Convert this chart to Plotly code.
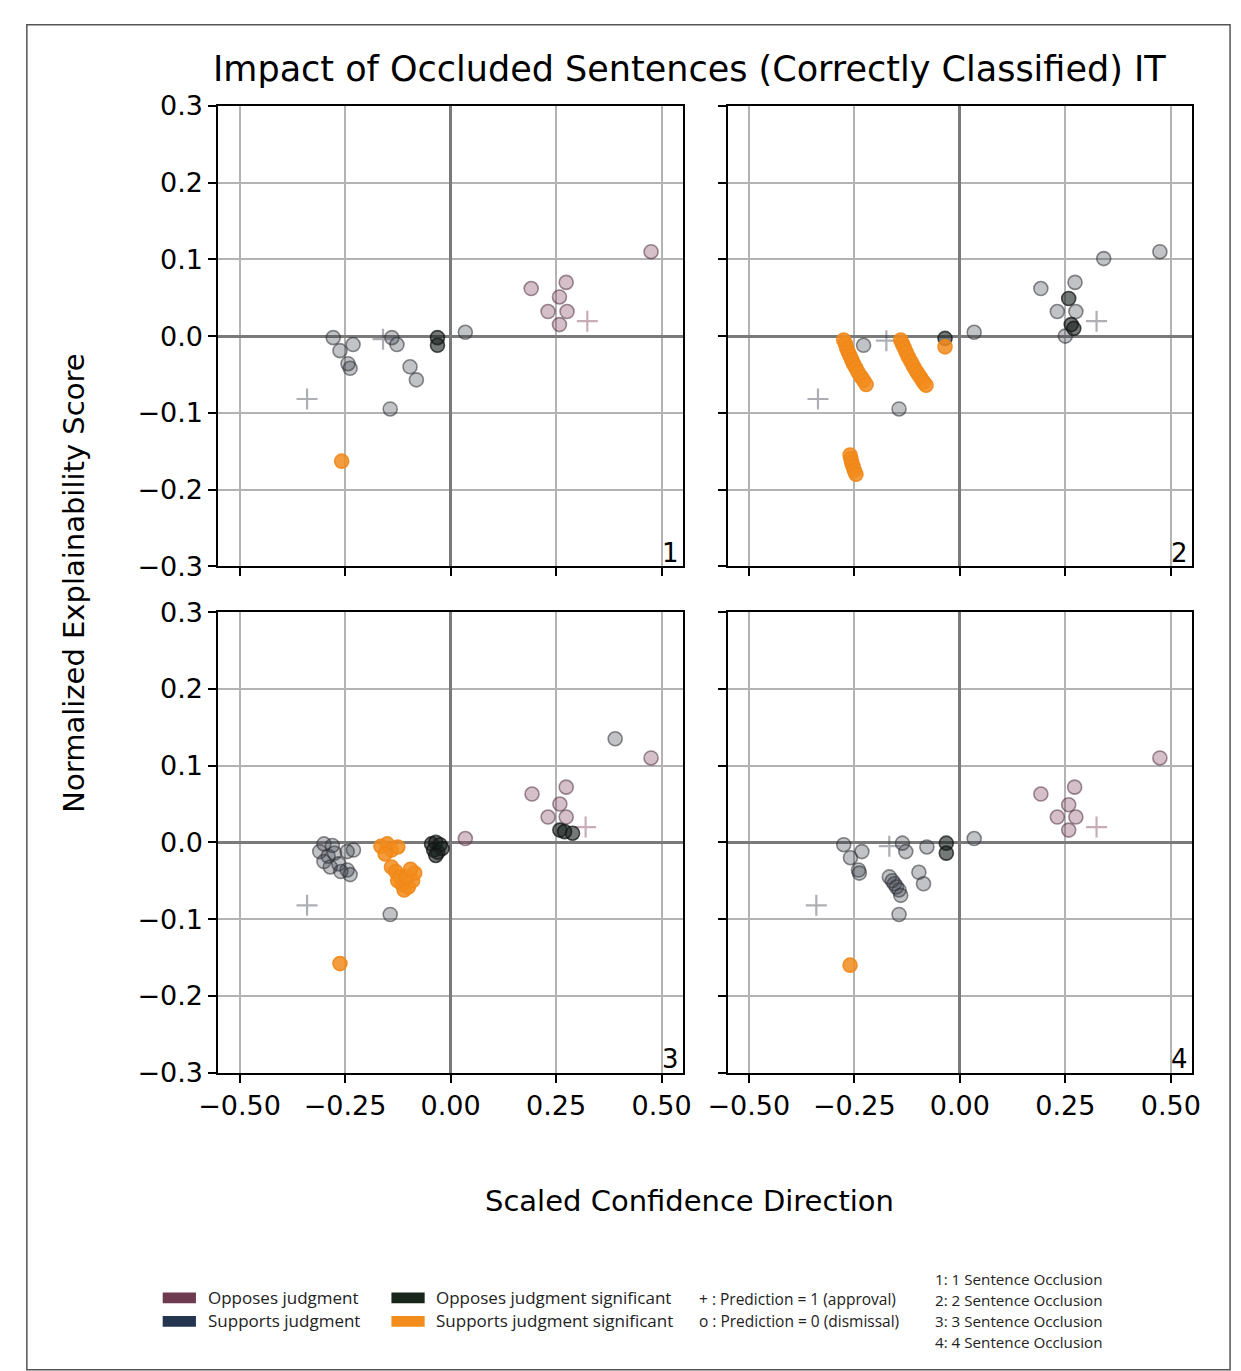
import plotly.graph_objects as go

W, H = 1241, 1371

# ---------------- data ----------------
# categories: O = opposes judgment, S = supports judgment,
#             OS = opposes judgment significant, SS = supports judgment significant
# symbols: "o" = prediction 0, "+" = prediction 1

p1_x = [0.475, 0.274, 0.191, 0.258, 0.231, 0.276, 0.258, 0.324,
        0.035, -0.139, -0.127, -0.278, -0.231, -0.262, -0.243, -0.238, -0.096, -0.081, -0.143,
        -0.340, -0.160,
        -0.031, -0.031,
        -0.258]
p1_y = [0.110, 0.070, 0.062, 0.051, 0.032, 0.032, 0.015, 0.0195,
        0.005, -0.002, -0.011, -0.002, -0.011, -0.019, -0.036, -0.042, -0.040, -0.057, -0.095,
        -0.082, -0.004,
        -0.002, -0.012,
        -0.163]
p1_cat = ["O"] * 8 + ["S"] * 11 + ["S"] * 2 + ["OS"] * 2 + ["SS"]
p1_sym = ["o"] * 7 + ["+"] + ["o"] * 11 + ["+"] * 2 + ["o"] * 3

p2_x = [0.474, 0.341, 0.273, 0.192, 0.231, 0.275, 0.250, 0.034,
        0.258, 0.264, 0.270,
        0.324, -0.336,
        -0.228, -0.144, -0.174,
        -0.035,
        -0.035,
        -0.275, -0.271, -0.268, -0.264, -0.260, -0.256, -0.252, -0.247, -0.241, -0.234, -0.228, -0.222,
        -0.140, -0.136, -0.132, -0.127, -0.122, -0.116, -0.110, -0.104, -0.098, -0.092, -0.086, -0.080,
        -0.260, -0.258, -0.256, -0.253, -0.250, -0.246]
p2_y = [0.110, 0.101, 0.070, 0.062, 0.032, 0.032, 0.000, 0.005,
        0.049, 0.015, 0.010,
        0.0195, -0.082,
        -0.012, -0.095, -0.006,
        -0.003,
        -0.014,
        -0.005, -0.010, -0.016, -0.021, -0.026, -0.031, -0.036, -0.041, -0.047, -0.053, -0.058, -0.063,
        -0.005, -0.010, -0.015, -0.021, -0.027, -0.033, -0.039, -0.045, -0.050, -0.055, -0.060, -0.064,
        -0.155, -0.160, -0.165, -0.170, -0.175, -0.180]
p2_cat = (["S"] * 8 + ["OS"] * 3 + ["S"] * 2 + ["S"] * 3 + ["OS"] + ["SS"]
          + ["SS"] * 12 + ["SS"] * 12 + ["SS"] * 6)
p2_sym = (["o"] * 8 + ["o"] * 3 + ["+"] * 2 + ["o", "o", "+"] + ["o"] + ["o"]
          + ["o"] * 30)

p3_x = [0.390,
        0.475, 0.274, 0.193, 0.259, 0.231, 0.274, 0.035,
        0.259, 0.289, 0.270,
        0.320, -0.340,
        -0.045, -0.035, -0.025, -0.040, -0.030, -0.020, -0.035,
        -0.165, -0.150, -0.140, -0.125, -0.155,
        -0.140, -0.130, -0.120, -0.115, -0.110, -0.100, -0.090, -0.085, -0.125, -0.105, -0.095,
        -0.300, -0.280, -0.310, -0.290, -0.275, -0.300, -0.285, -0.265, -0.245, -0.230, -0.245, -0.238, -0.260,
        -0.143,
        -0.262]
p3_y = [0.135,
        0.110, 0.072, 0.063, 0.050, 0.033, 0.033, 0.005,
        0.016, 0.012, 0.014,
        0.020, -0.082,
        -0.002, 0.000, -0.003, -0.010, -0.013, -0.008, -0.017,
        -0.005, -0.002, -0.010, -0.006, -0.015,
        -0.032, -0.038, -0.045, -0.055, -0.062, -0.058, -0.050, -0.040, -0.050, -0.045, -0.035,
        -0.002, -0.004, -0.012, -0.018, -0.014, -0.025, -0.032, -0.028, -0.012, -0.010, -0.036, -0.042, -0.038,
        -0.094,
        -0.158]
p3_cat = (["S"] + ["O"] * 7 + ["OS"] * 3 + ["O", "S"] + ["OS"] * 7 + ["SS"] * 5
          + ["SS"] * 11 + ["S"] * 13 + ["S"] + ["SS"])
p3_sym = (["o"] * 11 + ["+"] * 2 + ["o"] * 7 + ["o"] * 5 + ["o"] * 11 + ["o"] * 13 + ["o"] + ["o"])

p4_x = [0.474, 0.272, 0.192, 0.258, 0.231, 0.275, 0.258,
        0.324,
        0.034,
        -0.032, -0.032,
        -0.078, -0.136, -0.128, -0.275, -0.232, -0.259, -0.240, -0.238,
        -0.167, -0.160, -0.155, -0.150, -0.144, -0.140, -0.097, -0.086, -0.144,
        -0.167, -0.340,
        -0.260]
p4_y = [0.110, 0.072, 0.063, 0.049, 0.033, 0.033, 0.016,
        0.020,
        0.005,
        -0.001, -0.014,
        -0.006, -0.001, -0.012, -0.003, -0.012, -0.020, -0.036, -0.040,
        -0.045, -0.050, -0.054, -0.058, -0.062, -0.069, -0.039, -0.054, -0.094,
        -0.005, -0.082,
        -0.160]
p4_cat = ["O"] * 8 + ["S"] + ["OS"] * 2 + ["S"] * 17 + ["S"] * 2 + ["SS"]
p4_sym = ["o"] * 7 + ["+"] + ["o"] * 20 + ["+"] * 2 + ["o"]

x_ticks = [-0.5, -0.25, 0.0, 0.25, 0.5]
x_tick_text = ["\u22120.50", "\u22120.25", "0.00", "0.25", "0.50"]
y_ticks = [-0.3, -0.2, -0.1, 0.0, 0.1, 0.2, 0.3]
y_tick_text = ["\u22120.3", "\u22120.2", "\u22120.1", "0.0", "0.1", "0.2", "0.3"]

legend_cats = ["Opposes judgment", "Supports judgment",
               "Opposes judgment significant", "Supports judgment significant"]
legend_marks = ["+ : Prediction = 1 (approval)", "o : Prediction = 0 (dismissal)"]
legend_occl = ["1: 1 Sentence Occlusion", "2: 2 Sentence Occlusion",
               "3: 3 Sentence Occlusion", "4: 4 Sentence Occlusion"]

title = "Impact of Occluded Sentences (Correctly Classified) IT"
x_title = "Scaled Confidence Direction"
y_title = "Normalized Explainability Score"

# ---------------- styles ----------------
cat_rgb = {"O": (125, 60, 86), "S": (50, 55, 70), "OS": (23, 33, 30), "SS": (242, 140, 28)}
cat_fill_alpha = {"O": 0.32, "S": 0.30, "OS": 0.6, "SS": 0.85}
cat_edge = {"O": "rgba(80,50,65,0.55)", "S": "rgba(45,45,50,0.55)",
            "OS": "rgba(20,20,20,0.75)", "SS": "rgba(240,135,25,0.9)"}
legend_cat_color = ["#6e3a50", "#253550", "#17261a", "#f28c1c"]


def px_x(v):
    return v / W


def px_y(v):
    return 1 - v / H


panels = [
    (p1_x, p1_y, p1_cat, p1_sym, "x", "y"),
    (p2_x, p2_y, p2_cat, p2_sym, "x2", "y2"),
    (p3_x, p3_y, p3_cat, p3_sym, "x3", "y3"),
    (p4_x, p4_y, p4_cat, p4_sym, "x4", "y4"),
]

fig = go.Figure()
for xs, ys, cats, syms, xa, ya in panels:
    for cat in ["S", "O", "OS", "SS"]:
        for sym in ["o", "+"]:
            idx = [i for i in range(len(xs)) if cats[i] == cat and syms[i] == sym]
            if not idx:
                continue
            r, g, b = cat_rgb[cat]
            a = cat_fill_alpha[cat]
            if sym == "o":
                marker = dict(symbol="circle", size=14,
                              color=f"rgba({r},{g},{b},{a})",
                              line=dict(color=cat_edge[cat], width=1.6))
            else:
                marker = dict(symbol="cross-thin", size=15,
                              color=f"rgba({r},{g},{b},{min(a + 0.1, 0.9)})",
                              line=dict(color=f"rgba({r},{g},{b},{min(a + 0.1, 0.9)})", width=2.2))
            fig.add_trace(go.Scatter(
                x=[xs[i] for i in idx], y=[ys[i] for i in idx],
                mode="markers", marker=marker, xaxis=xa, yaxis=ya,
                showlegend=False, hoverinfo="skip"))

# panel pixel boxes (left, right, top, bottom)
boxes = [(203, 678, 92, 563), (724, 1199, 92, 563),
         (203, 678, 610, 1081), (724, 1199, 610, 1081)]

axis_common = dict(showline=True, mirror=True, linecolor="black", linewidth=2,
                   ticks="outside", ticklen=8, tickwidth=1.5, tickcolor="black",
                   showgrid=True, gridcolor="#b3b3b3", gridwidth=1.5,
                   zeroline=True, zerolinecolor="#7a7a7a", zerolinewidth=3,
                   tickfont=dict(family="DejaVu Sans", size=27, color="black"))

layout_axes = {}
for k, (l, r, t, b) in enumerate(boxes):
    sfx = "" if k == 0 else str(k + 1)
    layout_axes["xaxis" + sfx] = dict(
        axis_common, domain=[px_x(l), px_x(r)], range=[-0.55, 0.55],
        tickvals=x_ticks, ticktext=x_tick_text,
        showticklabels=(k >= 2), anchor="y" + sfx)
    layout_axes["yaxis" + sfx] = dict(
        axis_common, domain=[px_y(b), px_y(t)], range=[-0.3, 0.3],
        tickvals=y_ticks, ticktext=y_tick_text,
        showticklabels=(k % 2 == 0), anchor="x" + sfx)

annotations = [
    dict(text=title, x=px_x(685), y=px_y(54), xref="paper", yref="paper",
         showarrow=False, font=dict(family="DejaVu Sans", size=35, color="black"),
         xanchor="center", yanchor="middle"),
    dict(text=x_title, x=px_x(685), y=px_y(1212), xref="paper", yref="paper",
         showarrow=False, font=dict(family="DejaVu Sans", size=29, color="black"),
         xanchor="center", yanchor="middle"),
    dict(text=y_title, x=px_x(55), y=px_y(580), xref="paper", yref="paper",
         showarrow=False, textangle=-90,
         font=dict(family="DejaVu Sans", size=29, color="black"),
         xanchor="center", yanchor="middle"),
]
for k, (l, r, t, b) in enumerate(boxes):
    annotations.append(dict(text=str(k + 1), x=px_x(r - 2), y=px_y(b + 4),
                            xref="paper", yref="paper", showarrow=False,
                            font=dict(family="DejaVu Sans", size=26, color="black"),
                            xanchor="right", yanchor="bottom"))

shapes = [dict(type="rect", xref="paper", yref="paper",
               x0=px_x(7), x1=px_x(1238), y0=px_y(1385), y1=px_y(9),
               line=dict(color="#555555", width=1.5))]

leg_font = dict(family="Open Sans", size=17, color="#222222")
leg_pos = [(146, 1311), (146, 1335), (380, 1311), (380, 1335)]
for (lx, ly), txt, col in zip(leg_pos, legend_cats, legend_cat_color):
    shapes.append(dict(type="rect", xref="paper", yref="paper",
                       x0=px_x(lx), x1=px_x(lx + 34), y0=px_y(ly + 6), y1=px_y(ly - 5),
                       fillcolor=col, line=dict(width=0)))
    annotations.append(dict(text=txt, x=px_x(lx + 44), y=px_y(ly), xref="paper", yref="paper",
                            showarrow=False, font=leg_font, xanchor="left", yanchor="middle"))
for ly, txt in zip([1313, 1335], legend_marks):
    annotations.append(dict(text=txt, x=px_x(693), y=px_y(ly), xref="paper", yref="paper",
                            showarrow=False, font=dict(leg_font, size=15.5),
                            xanchor="left", yanchor="middle"))
for ly, txt in zip([1292, 1314, 1335, 1357], legend_occl):
    annotations.append(dict(text=txt, x=px_x(934), y=px_y(ly), xref="paper", yref="paper",
                            showarrow=False, font=dict(leg_font, size=15.2),
                            xanchor="left", yanchor="middle"))

fig.update_layout(width=W, height=H, margin=dict(l=0, r=0, t=0, b=0),
                  paper_bgcolor="white", plot_bgcolor="white",
                  annotations=annotations, shapes=shapes, **layout_axes)

fig.write_html("out.html",
               post_script="document.body.style.margin='0';document.body.style.padding='0';")
